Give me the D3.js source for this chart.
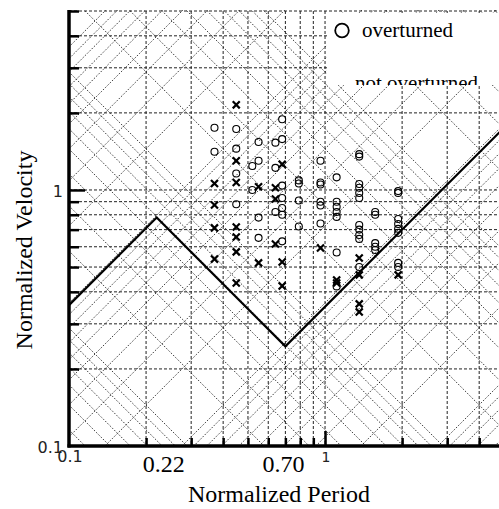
<!DOCTYPE html>
<html>
<head>
<meta charset="utf-8">
<script src="https://cdn.jsdelivr.net/npm/d3@7"></script>
<style>
  body { margin: 0; background: #fff; }
</style>
</head>
<body>
<svg id="chart" width="499" height="509"></svg>
<script>
// axis ticks / labels
const xTicks = [0.2, 0.3, 0.4, 0.5, 0.6, 0.7, 0.8, 0.9, 1, 2, 3, 4];
const yTicks = [0.2, 0.3, 0.4, 0.5, 0.6, 0.7, 0.8, 0.9, 1, 2, 3, 4, 5];
const xLabelVals = [0.22, 0.70];
const xLabelText = ['0.22', '0.70'];

// diagonal guide lines: mantissas, decades and base constants
const gridMant = [1, 2, 3, 4, 5, 6, 7, 8, 9];
const dispDecades = [0.1, 1, 10, 100];      // V*T = dispBase * m * decade
const accDecades = [0.01, 0.1, 1, 10, 100]; // V/T = accBase * m * decade
const dispBase = 0.0289;
const accBase = 0.362;

// overturning boundary
const boundT = [0.1, 0.22, 0.70, 5];
const boundV = [0.355, 0.78, 0.245, 1.75];

// overturned (circles)
const overT = [0.37, 0.37,
  0.45, 0.45, 0.45, 0.45,
  0.52, 0.52,
  0.55, 0.55, 0.55, 0.55,
  0.64, 0.64, 0.64,
  0.68, 0.68, 0.68, 0.68, 0.68, 0.68, 0.68,
  0.79, 0.79, 0.79, 0.79,
  0.96, 0.96, 0.96, 0.96, 0.96, 0.96,
  1.11, 1.11, 1.11, 1.11, 1.11, 1.11, 1.11,
  1.36, 1.36, 1.36, 1.36, 1.36, 1.36, 1.36, 1.36, 1.36, 1.36, 1.36,
  1.57, 1.57, 1.57, 1.57, 1.57,
  1.93, 1.93, 1.93, 1.93, 1.93, 1.93, 1.93, 1.93];
const overV = [1.75, 1.41,
  1.73, 1.45, 1.16, 0.88,
  1.24, 1.0,
  1.54, 1.30, 0.78, 0.65,
  1.53, 1.22, 0.82,
  1.89, 1.58, 1.04, 0.93, 0.85, 0.80, 0.63,
  1.09, 1.06, 0.91, 0.72,
  1.30, 1.07, 1.05, 0.90, 0.87, 0.74,
  1.12, 0.90, 0.86, 0.82, 0.785, 0.57, 0.42,
  1.38, 1.35, 1.055, 1.02, 0.973, 0.93, 0.73, 0.70, 0.667, 0.644, 0.50,
  0.82, 0.80, 0.62, 0.60, 0.583,
  0.99, 0.973, 0.77, 0.736, 0.705, 0.68, 0.519, 0.50];

// not overturned (crosses)
const notT = [0.37, 0.37, 0.37, 0.37,
  0.45, 0.45, 0.45, 0.45, 0.45, 0.45, 0.45,
  0.55, 0.55,
  0.64, 0.64, 0.64,
  0.68, 0.68, 0.68,
  0.96,
  1.11, 1.11,
  1.36, 1.36, 1.36, 1.36,
  1.93];
const notV = [1.06, 0.874, 0.711, 0.537,
  2.15, 1.30, 1.07, 0.717, 0.655, 0.573, 0.433,
  1.03, 0.519,
  1.02, 0.922, 0.615,
  1.26, 0.523, 0.422,
  0.593,
  0.445, 0.433,
  0.542, 0.466, 0.359, 0.334,
  0.466];

const svg = d3.select('#chart');
const pLeft = 69, pTop = 11, pBottom = 446, pRight = 504;

const x = d3.scaleLog().domain([0.1, 5]).range([pLeft, pRight]);
const y = d3.scaleLog().domain([0.1, 5]).range([pBottom, pTop]);

svg.append('defs').append('clipPath').attr('id', 'plot')
  .append('rect').attr('x', pLeft).attr('y', pTop - 1)
  .attr('width', pRight - pLeft).attr('height', pBottom - pTop + 1);

const grid = svg.append('g').attr('clip-path', 'url(#plot)');

// diagonal lines, slope -1 and +1 in log-log
const dispVals = dispDecades.flatMap(d => gridMant.map(m => dispBase * m * d));
const accVals = accDecades.flatMap(d => gridMant.map(m => accBase * m * d));
const T0 = 0.1, T1 = 5;

grid.selectAll('line.disp').data(dispVals).join('line')
  .attr('class', 'disp')
  .attr('x1', x(T0)).attr('y1', d => y(d / T0))
  .attr('x2', x(T1)).attr('y2', d => y(d / T1))
  .attr('stroke', '#111').attr('stroke-width', 0.8)
  .attr('stroke-dasharray', '1.6,1.6');

grid.selectAll('line.acc').data(accVals).join('line')
  .attr('class', 'acc')
  .attr('x1', x(T0)).attr('y1', d => y(d * T0))
  .attr('x2', x(T1)).attr('y2', d => y(d * T1))
  .attr('stroke', '#111').attr('stroke-width', 0.8)
  .attr('stroke-dasharray', '1.6,1.6');

// dashed horizontal / vertical grid
grid.selectAll('line.vg').data(xTicks).join('line')
  .attr('class', 'vg')
  .attr('x1', d => x(d)).attr('x2', d => x(d))
  .attr('y1', pTop).attr('y2', pBottom)
  .attr('stroke', '#222').attr('stroke-width', 1)
  .attr('stroke-dasharray', '3,2');

grid.selectAll('line.hg').data(yTicks).join('line')
  .attr('class', 'hg')
  .attr('x1', pLeft).attr('x2', pRight)
  .attr('y1', d => y(d)).attr('y2', d => y(d))
  .attr('stroke', '#222').attr('stroke-width', 1)
  .attr('stroke-dasharray', '3,2');

// boundary line
const line = d3.line().x((d, i) => x(boundT[i])).y(d => y(d));
grid.append('path').datum(boundV)
  .attr('d', line)
  .attr('fill', 'none').attr('stroke', '#000').attr('stroke-width', 2.2);

// markers
grid.selectAll('circle.over').data(overV).join('circle')
  .attr('class', 'over')
  .attr('cx', (d, i) => x(overT[i])).attr('cy', d => y(d))
  .attr('r', 3.5)
  .attr('fill', 'none').attr('stroke', '#000').attr('stroke-width', 1.1);

const cross = d3.symbol().type(d3.symbolX).size(34);
grid.selectAll('path.not').data(notV).join('path')
  .attr('class', 'not')
  .attr('transform', (d, i) => `translate(${x(notT[i])},${y(d)})`)
  .attr('d', cross)
  .attr('fill', 'none').attr('stroke', '#000').attr('stroke-width', 2.2);

// legend box (its lower half covered)
svg.append('defs').append('clipPath').attr('id', 'leg')
  .append('rect').attr('x', 327).attr('y', 13).attr('width', 180).attr('height', 72);
const leg = svg.append('g').attr('clip-path', 'url(#leg)');
leg.append('rect').attr('x', 327).attr('y', 13).attr('width', 180).attr('height', 72)
  .attr('fill', '#fff');
leg.append('circle').attr('cx', 342).attr('cy', 30.5).attr('r', 6.8)
  .attr('fill', 'none').attr('stroke', '#000').attr('stroke-width', 1.8);
leg.append('text').attr('x', 362).attr('y', 37)
  .attr('font-family', 'Liberation Serif').attr('font-size', 21)
  .text('overturned');
leg.append('path').attr('transform', 'translate(342,91)')
  .attr('d', d3.symbol().type(d3.symbolX).size(60))
  .attr('stroke', '#000').attr('stroke-width', 2);
leg.append('text').attr('x', 355).attr('y', 90)
  .attr('font-family', 'Liberation Serif').attr('font-size', 21)
  .text('not overturned');

// axes
const yAxis = d3.axisLeft(y).tickValues(yTicks).tickSize(-10).tickFormat('');
const gy = svg.append('g').attr('transform', `translate(${pLeft},0)`).call(yAxis);
gy.select('.domain').remove();
gy.selectAll('.tick line').attr('stroke', '#000').attr('stroke-width', 2.5)
  .attr('x2', d => d === 1 ? 16 : 10);

const xAxis = d3.axisBottom(x).tickValues(xTicks).tickSize(-8).tickFormat('');
const gx = svg.append('g').attr('transform', `translate(0,${pBottom})`).call(xAxis);
gx.select('.domain').remove();
gx.selectAll('.tick line').attr('stroke', '#000').attr('stroke-width', 2.5)
  .attr('y2', d => d === 1 ? -15 : -8);

svg.append('line').attr('x1', pLeft).attr('x2', pLeft).attr('y1', pTop - 1).attr('y2', pBottom + 1.5)
  .attr('stroke', '#000').attr('stroke-width', 3.5);
svg.append('line').attr('x1', pLeft - 1.5).attr('x2', 499).attr('y1', pBottom).attr('y2', pBottom)
  .attr('stroke', '#000').attr('stroke-width', 3.5);

// tick labels (the two 0.1 labels overlap at the corner, as in the source)
const sans = 'DejaVu Sans', serif = 'Liberation Serif';
svg.append('text').attr('x', 63).attr('y', 453).attr('text-anchor', 'end')
  .attr('font-family', sans).attr('font-size', 16).attr('fill', '#222').text('0.1');
svg.append('text').attr('x', 63).attr('y', 197).attr('text-anchor', 'end')
  .attr('font-family', sans).attr('font-size', 16).attr('fill', '#222').text('1');
svg.append('text').attr('x', x(0.1) + 1).attr('y', 462).attr('text-anchor', 'middle')
  .attr('font-family', sans).attr('font-size', 16).attr('fill', '#222').text('0.1');
svg.append('text').attr('x', x(1) + 1).attr('y', 462).attr('text-anchor', 'middle')
  .attr('font-family', sans).attr('font-size', 14).attr('fill', '#222').text('1');
svg.selectAll('text.xl').data(xLabelVals).join('text')
  .attr('class', 'xl')
  .attr('x', (d, i) => x(d) + (i === 0 ? 7 : -2)).attr('y', 472)
  .attr('text-anchor', 'middle')
  .attr('font-family', serif).attr('font-size', 24)
  .text((d, i) => xLabelText[i]);

// axis titles
svg.append('text').attr('x', 279).attr('y', 502).attr('text-anchor', 'middle')
  .attr('font-family', serif).attr('font-size', 24).text('Normalized Period');
svg.append('text').attr('transform', 'translate(32,250) rotate(-90)')
  .attr('text-anchor', 'middle')
  .attr('font-family', serif).attr('font-size', 24).text('Normalized Velocity');
</script>
</body>
</html>
